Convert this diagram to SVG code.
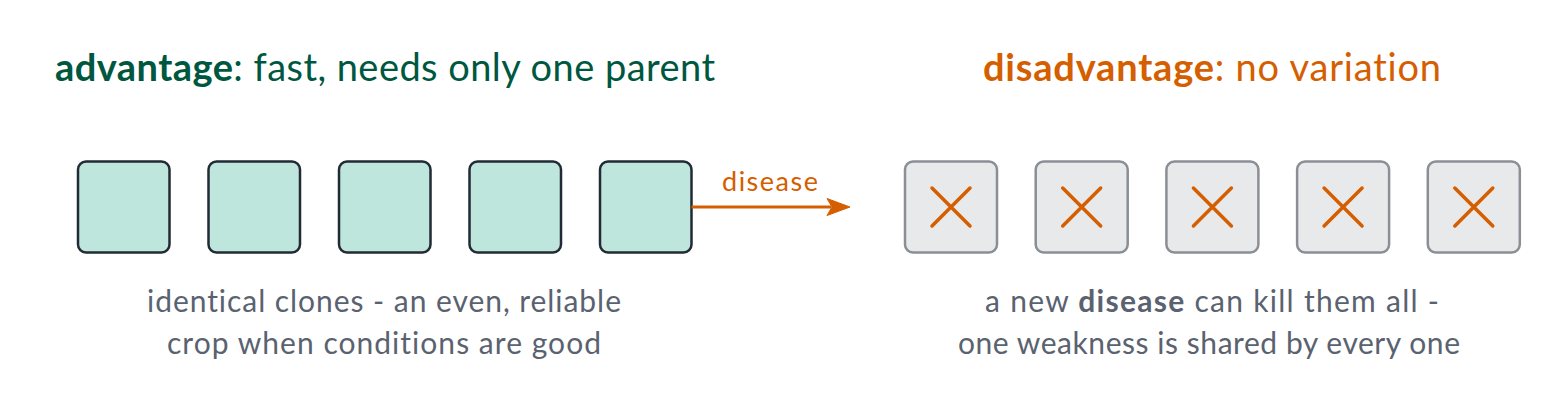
<svg xmlns="http://www.w3.org/2000/svg" width="1560" height="415" viewBox="0 0 1560 415">
  <style>
    text { font-family: Lato, "Liberation Sans", sans-serif; font-variant-ligatures: none; }
    .title-good { fill: #00573F; font-size: 38px; }
    .title-bad { fill: #D55E00; font-size: 38px; }
    .b { font-weight: bold; }
    .caption { fill: #5A6270; font-size: 30px; text-anchor: middle; }
    .clone { fill: #BFE6DD; stroke: #222A35; stroke-width: 2.5; }
    .dead { fill: #E8E9EB; stroke: #8A8F96; stroke-width: 2.5; }
    .cross { stroke: #D55E00; stroke-width: 3.5; stroke-linecap: round; fill: none; }
    .edge { stroke: #D55E00; stroke-width: 3.2; fill: none; }
    .edge-label { fill: #D55E00; font-size: 27px; text-anchor: middle; }
  </style>
  <defs>
    <marker id="arrow" markerUnits="userSpaceOnUse" markerWidth="26" markerHeight="20" refX="4" refY="9" orient="auto" overflow="visible">
      <path d="M0,0.5 L23,9 L0,17.5 L5,9 Z" fill="#D55E00" stroke="#D55E00" stroke-width="1" stroke-linejoin="round"/>
    </marker>
    <path id="x" d="M-19,-19 L19,19 M19,-19 L-19,19"/>
  </defs>
  <rect width="1560" height="415" fill="#ffffff"/>

  <g id="title-advantage">
    <text class="title-good" x="55" y="81" textLength="660" lengthAdjust="spacing"><tspan class="b">advantage</tspan>: fast, needs only one parent</text>
  </g>
  <g id="title-disadvantage">
    <text class="title-bad" x="983" y="81" textLength="458" lengthAdjust="spacing"><tspan class="b">disadvantage</tspan>: no variation</text>
  </g>

  <g id="clone-1"><rect class="clone" x="78" y="161.5" width="91.5" height="91" rx="8"/></g>
  <g id="clone-2"><rect class="clone" x="208.5" y="161.5" width="91.5" height="91" rx="8"/></g>
  <g id="clone-3"><rect class="clone" x="339" y="161.5" width="91.5" height="91" rx="8"/></g>
  <g id="clone-4"><rect class="clone" x="469.5" y="161.5" width="91.5" height="91" rx="8"/></g>
  <g id="clone-5"><rect class="clone" x="600" y="161.5" width="91.5" height="91" rx="8"/></g>

  <g id="dead-1"><rect class="dead" x="905" y="161.5" width="92" height="91" rx="8"/><use href="#x" class="cross" x="951" y="207"/></g>
  <g id="dead-2"><rect class="dead" x="1035.7" y="161.5" width="92" height="91" rx="8"/><use href="#x" class="cross" x="1081.7" y="207"/></g>
  <g id="dead-3"><rect class="dead" x="1166.4" y="161.5" width="92" height="91" rx="8"/><use href="#x" class="cross" x="1212.4" y="207"/></g>
  <g id="dead-4"><rect class="dead" x="1297.1" y="161.5" width="92" height="91" rx="8"/><use href="#x" class="cross" x="1343.1" y="207"/></g>
  <g id="dead-5"><rect class="dead" x="1427.8" y="161.5" width="92" height="91" rx="8"/><use href="#x" class="cross" x="1473.8" y="207"/></g>

  <g id="connectors">
    <line class="edge" x1="691.5" y1="207" x2="831" y2="207" marker-end="url(#arrow)"/>
    <text class="edge-label" x="770" y="191" textLength="96" lengthAdjust="spacing">disease</text>
  </g>

  <g id="caption-left">
    <text class="caption" x="384" y="312" textLength="474" lengthAdjust="spacing">identical clones - an even, reliable</text>
    <text class="caption" x="384" y="354" textLength="434" lengthAdjust="spacing">crop when conditions are good</text>
  </g>
  <g id="caption-right">
    <text class="caption" x="1212" y="312" textLength="454" lengthAdjust="spacing">a new <tspan class="b">disease</tspan> can kill them all -</text>
    <text class="caption" x="1209" y="354" textLength="502" lengthAdjust="spacing">one weakness is shared by every one</text>
  </g>
</svg>
